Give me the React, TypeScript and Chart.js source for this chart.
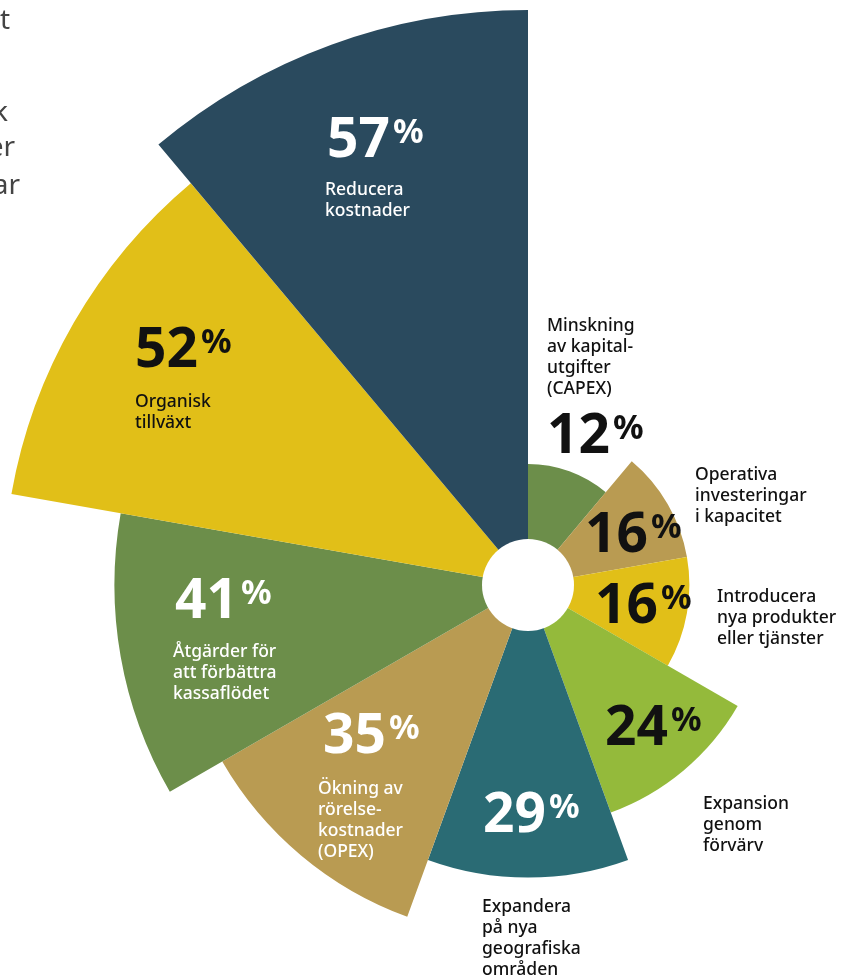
import React, { useEffect, useRef } from "react";
import { Chart, registerables } from "chart.js";

Chart.register(...registerables);

// ---- data ----
const categories = [
  "Minskning av kapitalutgifter (CAPEX)",
  "Operativa investeringar i kapacitet",
  "Introducera nya produkter eller tjänster",
  "Expansion genom förvärv",
  "Expandera på nya geografiska områden",
  "Ökning av rörelsekostnader (OPEX)",
  "Åtgärder för att förbättra kassaflödet",
  "Organisk tillväxt",
  "Reducera kostnader",
];
const values = [12, 16, 16, 24, 29, 35, 41, 52, 57];
const labelLines = [
  ["Minskning", "av kapital-", "utgifter", "(CAPEX)"],
  ["Operativa", "investeringar", "i kapacitet"],
  ["Introducera", "nya produkter", "eller tjänster"],
  ["Expansion", "genom", "förvärv"],
  ["Expandera", "på nya", "geografiska", "områden"],
  ["Ökning av", "rörelse-", "kostnader", "(OPEX)"],
  ["Åtgärder för", "att förbättra", "kassaflödet"],
  ["Organisk", "tillväxt"],
  ["Reducera", "kostnader"],
];
const sideFragments = ["t", "k", "er", "ar"];

// ---- styles / layout ----
const colors = ["#6c8e4a", "#b99b52", "#e1bf18", "#94ba3b", "#2a6b74", "#b99b52", "#6c8e4a", "#e1bf18", "#2a4a5e"];
const pctColors = ["#111", "#111", "#111", "#111", "#fff", "#fff", "#fff", "#111", "#fff"];
const labelColors = ["#111", "#111", "#111", "#111", "#111", "#fff", "#fff", "#111", "#fff"];
// offsets from chart centre: [dx, baseline dy]
const pctPos = [[19, -132], [57, -33], [67, 38], [77, 160], [-45, 247], [-205, 168], [-353, 33], [-393, -218], [-201, -428]];
const labelPos = [[19, -254], [167, -105], [189, 17], [175, 224], [-46, 327], [-210, 209], [-355, 72], [-393, -178], [-203, -390]];
const fragPos = [[10, 29], [8, 121], [15, 156], [20, 194]]; // page coords, right edge / baseline

const PAGE_W = 848;
const PAGE_H = 977;
const CENTER_X = 528;
const CENTER_Y = 585;
const CANVAS = 1200;
const SCALE_MAX = 59.48;
const HOLE_R = 46;
const FONT = "'Noto Sans', 'Open Sans', sans-serif";

const holePlugin = {
  id: "hole",
  afterDatasetsDraw(chart: any) {
    const s = chart.scales.r;
    const ctx = chart.ctx;
    ctx.save();
    ctx.fillStyle = "#ffffff";
    ctx.beginPath();
    ctx.arc(s.xCenter, s.yCenter, HOLE_R, 0, Math.PI * 2);
    ctx.fill();
    ctx.restore();
  },
};

const textPlugin = {
  id: "texts",
  afterDraw(chart: any) {
    const s = chart.scales.r;
    const ctx = chart.ctx;
    const cx = s.xCenter;
    const cy = s.yCenter;
    ctx.save();
    ctx.textBaseline = "alphabetic";
    ctx.textAlign = "left";
    values.forEach((v, i) => {
      const [dx, dy] = pctPos[i];
      const x = cx + dx;
      const y = cy + dy;
      ctx.fillStyle = pctColors[i];
      ctx.font = `700 55px ${FONT}`;
      const digits = String(v);
      ctx.fillText(digits, x, y);
      const w = ctx.measureText(digits).width;
      ctx.font = `700 34px ${FONT}`;
      ctx.fillText("%", x + w + 3, y - 14);

      const [lx, ly] = labelPos[i];
      ctx.fillStyle = labelColors[i];
      ctx.font = `500 17.5px ${FONT}`;
      labelLines[i].forEach((line, k) => {
        ctx.fillText(line, cx + lx, cy + ly + k * 21);
      });
    });
    // fragments of neighbouring text at the page's left edge
    const offX = cx - CENTER_X;
    const offY = cy - CENTER_Y;
    ctx.textAlign = "right";
    ctx.fillStyle = "#444";
    ctx.font = `400 28px ${FONT}`;
    sideFragments.forEach((t, i) => {
      ctx.fillText(t, fragPos[i][0] + offX, fragPos[i][1] + offY);
    });
    ctx.restore();
  },
};

export default function App() {
  const ref = useRef<HTMLCanvasElement | null>(null);
  useEffect(() => {
    if (!ref.current) return;
    const chart = new Chart(ref.current, {
      type: "polarArea",
      data: {
        labels: categories,
        datasets: [
          {
            data: values,
            backgroundColor: colors,
            borderWidth: 0,
          },
        ],
      },
      options: {
        responsive: false,
        animation: false,
        devicePixelRatio: 1,
        layout: { padding: 0 },
        plugins: { legend: { display: false }, tooltip: { enabled: false } },
        scales: {
          r: {
            min: 0,
            max: SCALE_MAX,
            ticks: { display: false },
            grid: { display: false },
            angleLines: { display: false },
            pointLabels: { display: false },
          },
        },
      } as any,
      plugins: [holePlugin, textPlugin],
    });
    return () => chart.destroy();
  }, []);
  return (
    <div
      style={{
        position: "absolute",
        left: 0,
        top: 0,
        width: PAGE_W,
        height: PAGE_H,
        overflow: "hidden",
        background: "#fff",
      }}
    >
      <canvas
        ref={ref}
        width={CANVAS}
        height={CANVAS}
        style={{
          position: "absolute",
          left: CENTER_X - CANVAS / 2,
          top: CENTER_Y - CANVAS / 2,
          width: CANVAS,
          height: CANVAS,
        }}
      />
    </div>
  );
}
